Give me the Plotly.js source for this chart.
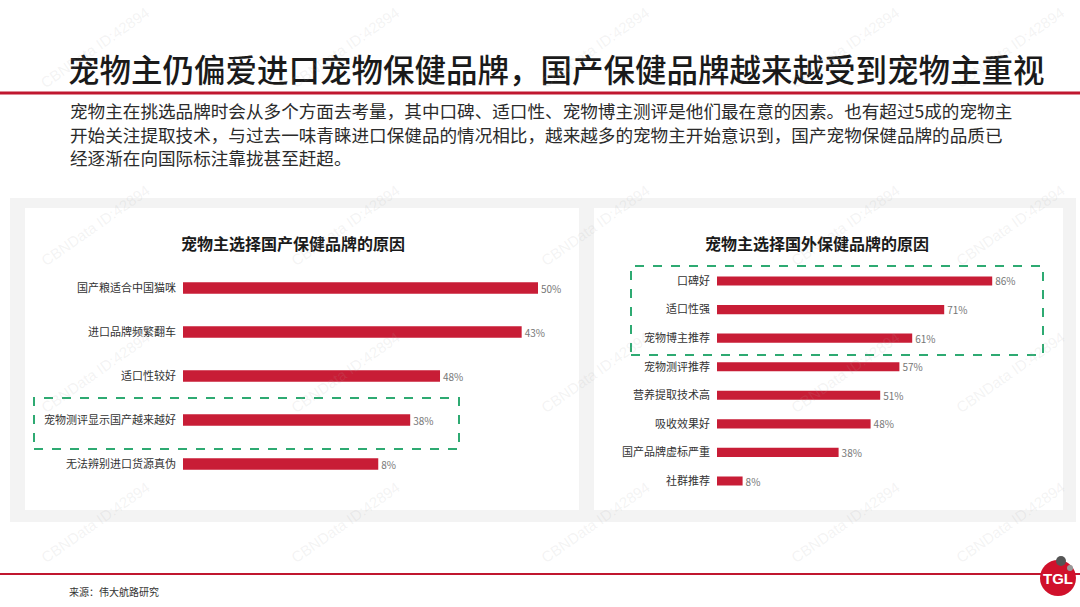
<!DOCTYPE html>
<html>
<head>
<meta charset="utf-8">
<script src="https://cdn.plot.ly/plotly-3.0.1.min.js"></script>
<style>html,body{margin:0;padding:0;background:#fff;}#chart{width:1080px;height:607px;}</style>
</head>
<body>
<div id="chart"></div>
<script>
// ---- data ----
const pageTitle = '宠物主仍偏爱进口宠物保健品牌，国产保健品牌越来越受到宠物主重视';
const introLines = [
  '宠物主在挑选品牌时会从多个方面去考量，其中口碑、适口性、宠物博主测评是他们最在意的因素。也有超过5成的宠物主',
  '开始关注提取技术，与过去一味青睐进口保健品的情况相比，越来越多的宠物主开始意识到，国产宠物保健品牌的品质已',
  '经逐渐在向国际标注靠拢甚至赶超。'
];
const leftTitle = '宠物主选择国产保健品牌的原因';
const leftCategories = ['国产粮适合中国猫咪', '进口品牌频繁翻车', '适口性较好', '宠物测评显示国产越来越好', '无法辨别进口货源真伪'];
const leftBarValues = [50, 47.7, 36.2, 32, 27.5];   // bar lengths as drawn in the picture
const leftLabels = ['50%', '43%', '48%', '38%', '8%'];  // printed labels

const rightTitle = '宠物主选择国外保健品牌的原因';
const rightCategories = ['口碑好', '适口性强', '宠物博主推荐', '宠物测评推荐', '营养提取技术高', '吸收效果好', '国产品牌虚标严重', '社群推荐'];
const rightValues = [86, 71, 61, 57, 51, 48, 38, 8];
const rightLabels = ['86%', '71%', '61%', '57%', '51%', '48%', '38%', '8%'];

const sourceText = '来源：伟大航路研究';
const watermark = 'CBNData ID:42894';

// ---- layout helpers ----
const W = 1080, H = 607;
const px = x => x / W;
const py = y => (H - y) / H;
const FONT = '"Noto Sans CJK SC", "Noto Sans", sans-serif';
const RED = '#c81d36';

const traces = [
  {
    type: 'bar', orientation: 'h',
    x: leftBarValues, y: leftCategories,
    text: leftLabels, textposition: 'outside', cliponaxis: false, constraintext: 'none',
    textfont: {size: 10, color: '#777', family: FONT},
    marker: {color: RED}, width: 0.26,
    xaxis: 'x', yaxis: 'y', hoverinfo: 'skip'
  },
  {
    type: 'bar', orientation: 'h',
    x: rightValues, y: rightCategories,
    text: rightLabels, textposition: 'outside', cliponaxis: false, constraintext: 'none',
    textfont: {size: 10, color: '#777', family: FONT},
    marker: {color: RED}, width: 0.32,
    xaxis: 'x2', yaxis: 'y2', hoverinfo: 'skip'
  }
];

const shapes = [
  // gray band behind panels
  {type: 'rect', xref: 'paper', yref: 'paper', x0: px(10), x1: px(1076), y0: py(522), y1: py(198), fillcolor: '#f3f3f3', line: {width: 0}, layer: 'below'},
  {type: 'rect', xref: 'paper', yref: 'paper', x0: px(25), x1: px(579), y0: py(510), y1: py(208), fillcolor: '#ffffff', line: {width: 0}, layer: 'below'},
  {type: 'rect', xref: 'paper', yref: 'paper', x0: px(594), x1: px(1063), y0: py(510), y1: py(208), fillcolor: '#ffffff', line: {width: 0}, layer: 'below'},
  // red lines
  {type: 'line', xref: 'paper', yref: 'paper', x0: 0, x1: 1, y0: py(93), y1: py(93), line: {color: '#c0172f', width: 3}},
  {type: 'line', xref: 'paper', yref: 'paper', x0: 0, x1: 1, y0: py(574), y1: py(574), line: {color: '#c0172f', width: 2}},
  // green dashed highlight boxes
  {type: 'rect', xref: 'paper', yref: 'paper', x0: px(34), x1: px(459), y0: py(449), y1: py(398), line: {color: '#2eaa72', width: 2, dash: 'dash'}},
  {type: 'rect', xref: 'paper', yref: 'paper', x0: px(631), x1: px(1043), y0: py(355), y1: py(266), line: {color: '#2eaa72', width: 2, dash: 'dash'}},
  // logo
  {type: 'circle', xref: 'paper', yref: 'paper', x0: px(1040), x1: px(1076), y0: py(596), y1: py(560), fillcolor: '#d0112b', line: {width: 0}},
  {type: 'circle', xref: 'paper', yref: 'paper', x0: px(1056), x1: px(1066), y0: py(566), y1: py(556), fillcolor: '#555', line: {width: 0}},
  {type: 'circle', xref: 'paper', yref: 'paper', x0: px(1067), x1: px(1073), y0: py(571), y1: py(565), fillcolor: '#999', line: {width: 0}}
];

const annotations = [
  {text: pageTitle, xref: 'paper', yref: 'paper', x: px(556), y: py(68), xanchor: 'center', yanchor: 'middle', showarrow: false,
   font: {family: FONT, size: 31.5, color: '#1a1a1a', weight: 500}},
  {text: leftTitle, xref: 'paper', yref: 'paper', x: px(293), y: py(243), xanchor: 'center', yanchor: 'middle', showarrow: false,
   font: {family: FONT, size: 16, color: '#1a1a1a', weight: 700}},
  {text: rightTitle, xref: 'paper', yref: 'paper', x: px(817), y: py(243), xanchor: 'center', yanchor: 'middle', showarrow: false,
   font: {family: FONT, size: 16, color: '#1a1a1a', weight: 700}},
  {text: sourceText, xref: 'paper', yref: 'paper', x: px(67), y: py(591), xanchor: 'left', yanchor: 'middle', showarrow: false,
   font: {family: FONT, size: 10, color: '#333'}},
  {text: '<b>TGL</b>', xref: 'paper', yref: 'paper', x: px(1058), y: py(578), xanchor: 'center', yanchor: 'middle', showarrow: false,
   font: {family: 'Liberation Sans, Arial, sans-serif', size: 15, color: '#fff'}}
];
introLines.forEach((t, i) => {
  annotations.push({text: t, xref: 'paper', yref: 'paper', x: px(68), y: py(111 + 23 * i), xanchor: 'left', yanchor: 'middle', showarrow: false,
    font: {family: FONT, size: 17.6, color: '#2b2b2b'}});
});
// faint watermarks
const wmX = [95, 345, 595, 845, 1010];
const wmY = [48, 225, 372, 522];
wmY.forEach(yy => wmX.forEach(xx => {
  annotations.push({text: watermark, xref: 'paper', yref: 'paper', x: px(xx), y: py(yy), xanchor: 'center', yanchor: 'middle', showarrow: false,
    textangle: -35, font: {family: 'Liberation Sans, Arial, sans-serif', size: 15, color: 'rgba(170,170,170,0.14)'}});
}));

const layout = {
  width: W, height: H,
  margin: {l: 0, r: 0, t: 0, b: 0},
  paper_bgcolor: '#ffffff', plot_bgcolor: 'rgba(0,0,0,0)',
  showlegend: false,
  font: {family: FONT},
  xaxis: {domain: [px(183), px(183 + 55 * 7.1)], range: [0, 55], visible: false, fixedrange: true},
  yaxis: {domain: [py(486), py(266)], type: 'category', autorange: 'reversed', showgrid: false, zeroline: false, showline: false,
          ticks: '', ticklabelstandoff: 6, tickfont: {size: 11, color: '#333', family: FONT}, anchor: 'x'},
  xaxis2: {domain: [px(717), px(717 + 100 * 3.2)], range: [0, 100], visible: false, fixedrange: true},
  yaxis2: {domain: [py(495.3), py(266.7)], type: 'category', autorange: 'reversed', showgrid: false, zeroline: false, showline: false,
          ticks: '', ticklabelstandoff: 6, tickfont: {size: 11, color: '#333', family: FONT}, anchor: 'x2'},
  shapes: shapes,
  annotations: annotations
};

Plotly.newPlot('chart', traces, layout, {displayModeBar: false, staticPlot: true});
</script>
</body>
</html>
